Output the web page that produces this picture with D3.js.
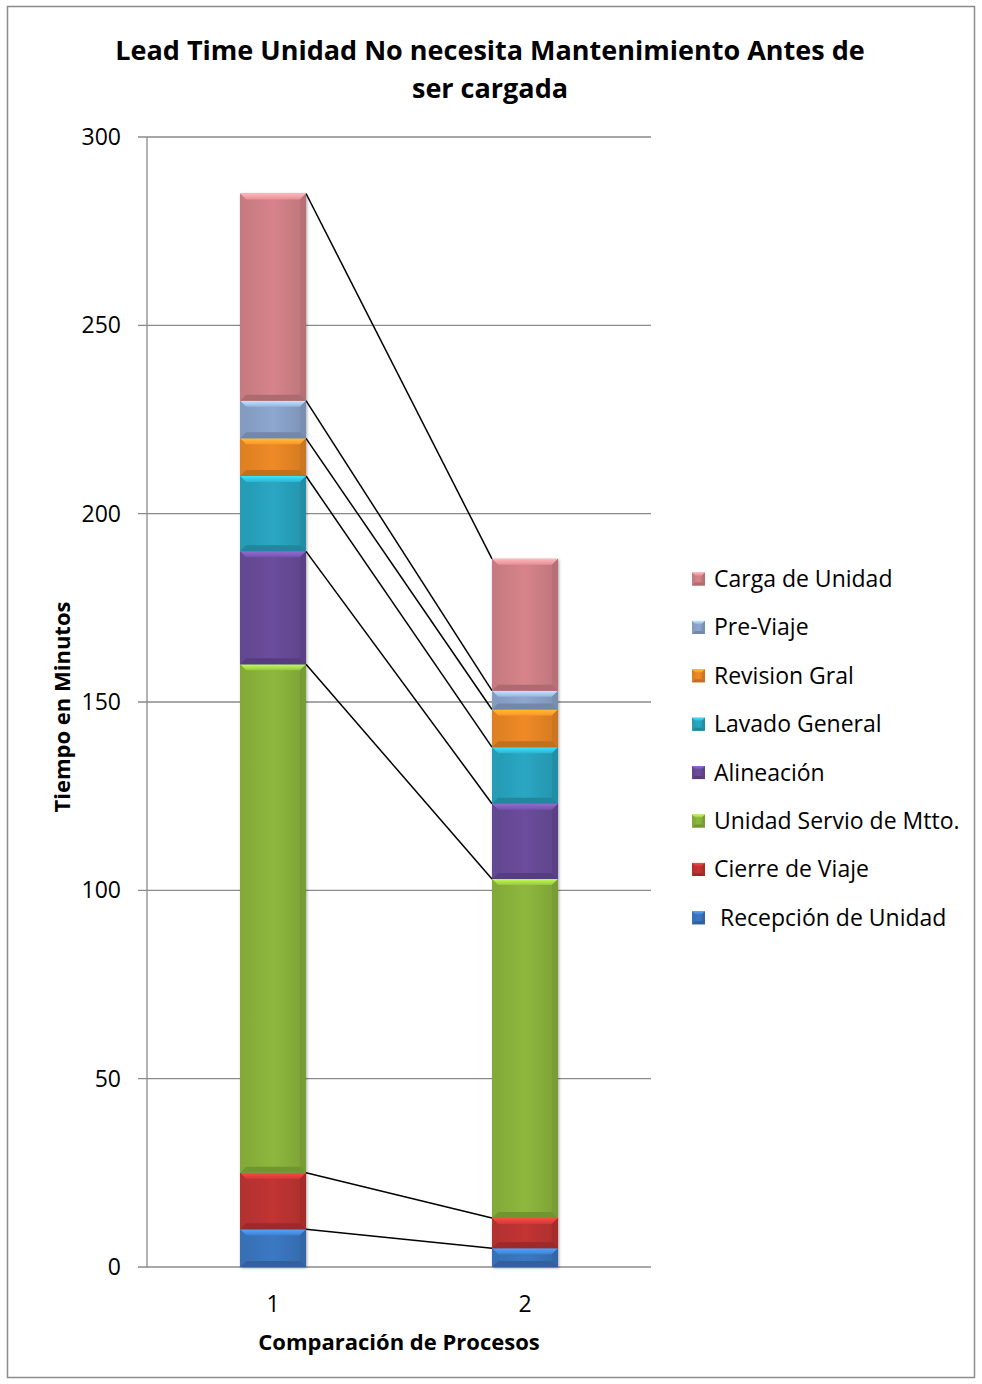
<!DOCTYPE html>
<html><head><meta charset="utf-8">
<script src="https://cdn.jsdelivr.net/npm/d3@7"></script>
<style>body{margin:0;background:#fff;} svg{display:block;}</style>
</head><body>
<script>
const categories = ["1", "2"];
const seriesNames = ["Recepción de Unidad", "Cierre de Viaje", "Unidad Servio de Mtto.", "Alineación", "Lavado General", "Revision Gral", "Pre-Viaje", "Carga de Unidad"];
const legendLabels = [" Recepción de Unidad", "Cierre de Viaje", "Unidad Servio de Mtto.", "Alineación", "Lavado General", "Revision Gral", "Pre-Viaje", "Carga de Unidad"];
const process1 = [10, 15, 135, 30, 20, 10, 10, 55];
const process2 = [5, 8, 90, 20, 15, 10, 5, 35];
const yTicks = [0, 50, 100, 150, 200, 250, 300];
const colors = ["#3b78c3", "#c23433", "#8db83d", "#6b4d9c", "#2aa7c3", "#ef8a26", "#8ea7d0", "#d6848a"];

const W = 982, H = 1384;
const font = "'Open Sans', sans-serif";
const svg = d3.select("body").append("svg").attr("width", W).attr("height", H);
svg.append("rect").attr("x", 7.5).attr("y", 6.5).attr("width", 967).attr("height", 1371)
  .attr("fill", "#fff").attr("stroke", "#8c8c8c").attr("stroke-width", 1.5);

const L = 147, R = 651, T = 137, B = 1267;
const y = d3.scaleLinear().domain([0, 300]).range([B, T]);
const x = d3.scaleBand().domain(categories).range([L, R]).paddingInner(0.738).paddingOuter(0.369);

// gridlines
svg.append("g").selectAll("line").data(yTicks).join("line")
  .attr("x1", L - 9).attr("x2", R).attr("y1", d => y(d)).attr("y2", d => y(d))
  .attr("stroke", "#8a8a8a").attr("stroke-width", 1.3);
svg.append("line").attr("x1", L).attr("x2", L).attr("y1", T).attr("y2", B)
  .attr("stroke", "#8a8a8a").attr("stroke-width", 1.3);
svg.append("g").selectAll("text").data(yTicks).join("text")
  .attr("x", 121).attr("y", d => y(d)).attr("dy", "0.35em").attr("text-anchor", "end")
  .attr("font-family", font).attr("font-size", 23).attr("fill", "#000").text(d => d);

// stacked data
const rows = [process1, process2];
const stacks = rows.map((vals, i) => {
  let acc = 0;
  return vals.map((v, k) => { const s = {cat: categories[i], k, y0: acc, y1: acc + v}; acc += v; return s; });
});

// connector lines between segment tops
const conn = svg.append("g");
seriesNames.forEach((n, k) => {
  const a = stacks[0][k], b = stacks[1][k];
  conn.append("line")
    .attr("x1", x("1") + x.bandwidth()).attr("y1", y(a.y1))
    .attr("x2", x("2")).attr("y2", y(b.y1))
    .attr("stroke", "#000").attr("stroke-width", 1.5);
});

// defs
const defs = svg.append("defs");
const sh = defs.append("filter").attr("id", "sh").attr("x", "-20%").attr("y", "-20%").attr("width", "140%").attr("height", "140%");
sh.append("feGaussianBlur").attr("in", "SourceAlpha").attr("stdDeviation", 1.5);
sh.append("feOffset").attr("dx", 1).attr("dy", 1).attr("result", "b");
sh.append("feComponentTransfer").append("feFuncA").attr("type", "linear").attr("slope", 0.35);
const m = sh.append("feMerge"); m.append("feMergeNode"); m.append("feMergeNode").attr("in", "SourceGraphic");

colors.forEach((c, k) => {
  const g = defs.append("linearGradient").attr("id", "g" + k).attr("x1", 0).attr("x2", 1).attr("y1", 0).attr("y2", 0);
  g.append("stop").attr("offset", "0%").attr("stop-color", d3.color(c).darker(0.25));
  g.append("stop").attr("offset", "50%").attr("stop-color", c);
  g.append("stop").attr("offset", "100%").attr("stop-color", d3.color(c).darker(0.35));
  const t = defs.append("linearGradient").attr("id", "t" + k).attr("x1", 0).attr("x2", 0).attr("y1", 0).attr("y2", 1);
  t.append("stop").attr("offset", "0%").attr("stop-color", d3.color(c).brighter(0.9));
  t.append("stop").attr("offset", "100%").attr("stop-color", d3.color(c).brighter(0.2));
});

function bevel(g, x0, x1, yt, yb, k, bv) {
  const c = colors[k];
  const h = yb - yt;
  const b = Math.min(bv, h / 2.5);
  g.append("rect").attr("x", x0).attr("y", yt).attr("width", x1 - x0).attr("height", h).attr("fill", "url(#g" + k + ")");
  g.append("polygon").attr("points", [[x0, yt], [x1, yt], [x1 - b, yt + b], [x0 + b, yt + b]].join(" "))
    .attr("fill", "url(#t" + k + ")");
  g.append("polygon").attr("points", [[x0, yb], [x1, yb], [x1 - b, yb - b], [x0 + b, yb - b]].join(" "))
    .attr("fill", d3.color(c).darker(0.6));
  g.append("polygon").attr("points", [[x0, yt], [x0 + b, yt + b], [x0 + b, yb - b], [x0, yb]].join(" "))
    .attr("fill", d3.color(c).darker(0.2)).attr("opacity", 0.7);
  g.append("polygon").attr("points", [[x1, yt], [x1 - b, yt + b], [x1 - b, yb - b], [x1, yb]].join(" "))
    .attr("fill", d3.color(c).darker(0.5)).attr("opacity", 0.7);
}

stacks.forEach(st => {
  const g = svg.append("g").attr("filter", "url(#sh)");
  st.forEach(s => {
    bevel(g, x(s.cat), x(s.cat) + x.bandwidth(), y(s.y1), y(s.y0), s.k, 6);
  });
});

// x tick labels
svg.append("g").selectAll("text").data(categories).join("text")
  .attr("x", d => x(d) + x.bandwidth() / 2).attr("y", 1304).attr("dy", "0.35em").attr("text-anchor", "middle")
  .attr("font-family", font).attr("font-size", 23).text(d => d);

// axis titles
svg.append("text").attr("x", (L + R) / 2).attr("y", 1342).attr("dy", "0.35em").attr("text-anchor", "middle")
  .attr("font-family", font).attr("font-weight", "bold").attr("font-size", 22).text("Comparación de Procesos");
svg.append("text").attr("transform", "translate(62,707) rotate(-90)").attr("dy", "0.35em").attr("text-anchor", "middle")
  .attr("font-family", font).attr("font-weight", "bold").attr("font-size", 22).text("Tiempo en Minutos");

// title
const title = svg.append("text").attr("text-anchor", "middle").attr("font-family", font).attr("font-weight", "bold").attr("font-size", 27);
title.append("tspan").attr("x", 490).attr("y", 60).text("Lead Time Unidad No necesita Mantenimiento Antes de");
title.append("tspan").attr("x", 490).attr("y", 98).text("ser cargada");

// legend
const legOrder = d3.range(seriesNames.length).reverse();
const leg = svg.append("g");
legOrder.forEach((k, i) => {
  const yy = 579 + i * 48.4;
  const lg = leg.append("g");
  bevel(lg, 692, 705, yy - 6.5, yy + 6.5, k, 3);
  leg.append("text").attr("x", 714).attr("y", yy).attr("dy", "0.35em")
    .attr("font-family", font).attr("font-size", 23).attr("xml:space", "preserve").style("white-space", "pre").text(legendLabels[k]);
});
</script>
</body></html>
